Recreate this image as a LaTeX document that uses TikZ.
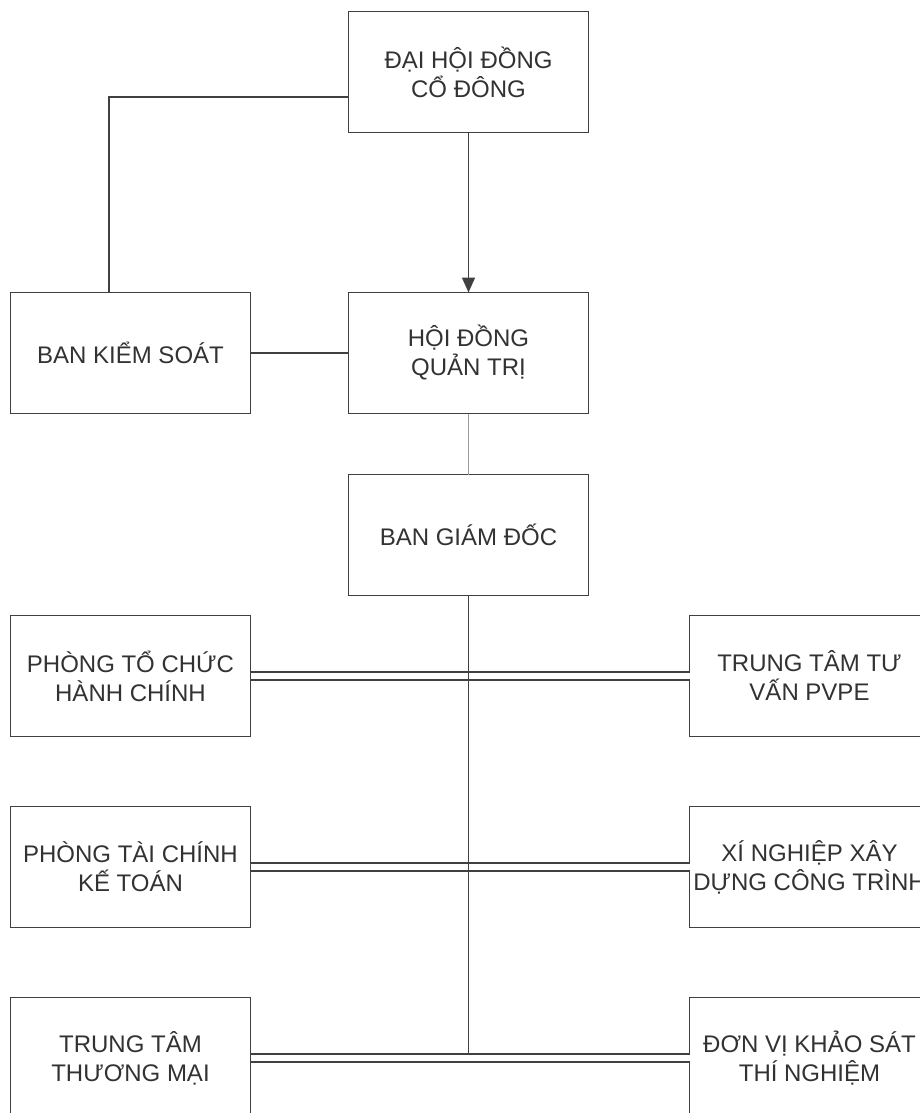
\documentclass[tikz,border=0pt]{standalone}
\usepackage{fontspec}
\setmainfont{Liberation Sans}
\usepackage{tikz}
\usetikzlibrary{arrows.meta, positioning}
\usepackage{xcolor}
\definecolor{boxline}{RGB}{64, 64, 64}
\definecolor{boxtext}{RGB}{50, 50, 50}

\begin{document}
\begin{tikzpicture}[
    x=1pt, y=1pt,
    block/.style={rectangle, draw=boxline, line width=1.5pt, minimum width=240pt, minimum height=121pt, align=center, outer sep=0pt, text=boxtext, font=\fontsize{24}{29}\selectfont},
    link/.style={draw=boxline, line width=1.5pt},
    dbl/.style={draw=boxline, line width=1.5pt, double=white, double distance=6.5pt},
    arrow/.style={link, -{Triangle[length=15pt, width=13pt]}}
]
\useasboundingbox (0,0) rectangle (920,-1113);
\clip (0,0) rectangle (920,-1113);

\node[block] (dhcd) at (468.5,-72) {ĐẠI HỘI ĐỒNG\\CỔ ĐÔNG};
\node[block, below=160pt of dhcd] (hdqt) {HỘI ĐỒNG\\QUẢN TRỊ};
\node[block, left=98pt of hdqt] (bks) {BAN KIỂM SOÁT};
\node[block, below=61pt of hdqt] (bgd) {BAN GIÁM ĐỐC};

\node[block, below=202pt of bks] (tchc) {PHÒNG TỔ CHỨC\\HÀNH CHÍNH};
\node[block, below=70pt of tchc] (tckt) {PHÒNG TÀI CHÍNH\\KẾ TOÁN};
\node[block, below=70pt of tckt] (tttm) {TRUNG TÂM\\THƯƠNG MẠI};
\node[block, right=439pt of tchc] (pvpe) {TRUNG TÂM TƯ\\VẤN PVPE};
\node[block, right=439pt of tckt] (xnxd) {XÍ NGHIỆP XÂY\\DỰNG CÔNG TRÌNH};
\node[block, right=439pt of tttm] (dvks) {ĐƠN VỊ KHẢO SÁT\\THÍ NGHIỆM};

\coordinate (kink) at ([yshift=-25pt]dhcd.west);
\coordinate (bkstop) at ([xshift=-21.5pt]bks.north);
\coordinate (vend) at ([yshift=4pt]tttm.east);

\draw[link] (kink) -| (bkstop);
\draw[arrow] (dhcd) -- (hdqt);
\draw[link] (bks) -- (hdqt);
\draw[link, draw=gray!80] (hdqt) -- (bgd);

\draw[dbl] (tchc) -- (pvpe);
\draw[dbl] (tckt) -- (xnxd);
\draw[dbl] (tttm) -- (dvks);
\draw[link] (bgd.south) -- (bgd.south |- vend);

\end{tikzpicture}
\end{document}
